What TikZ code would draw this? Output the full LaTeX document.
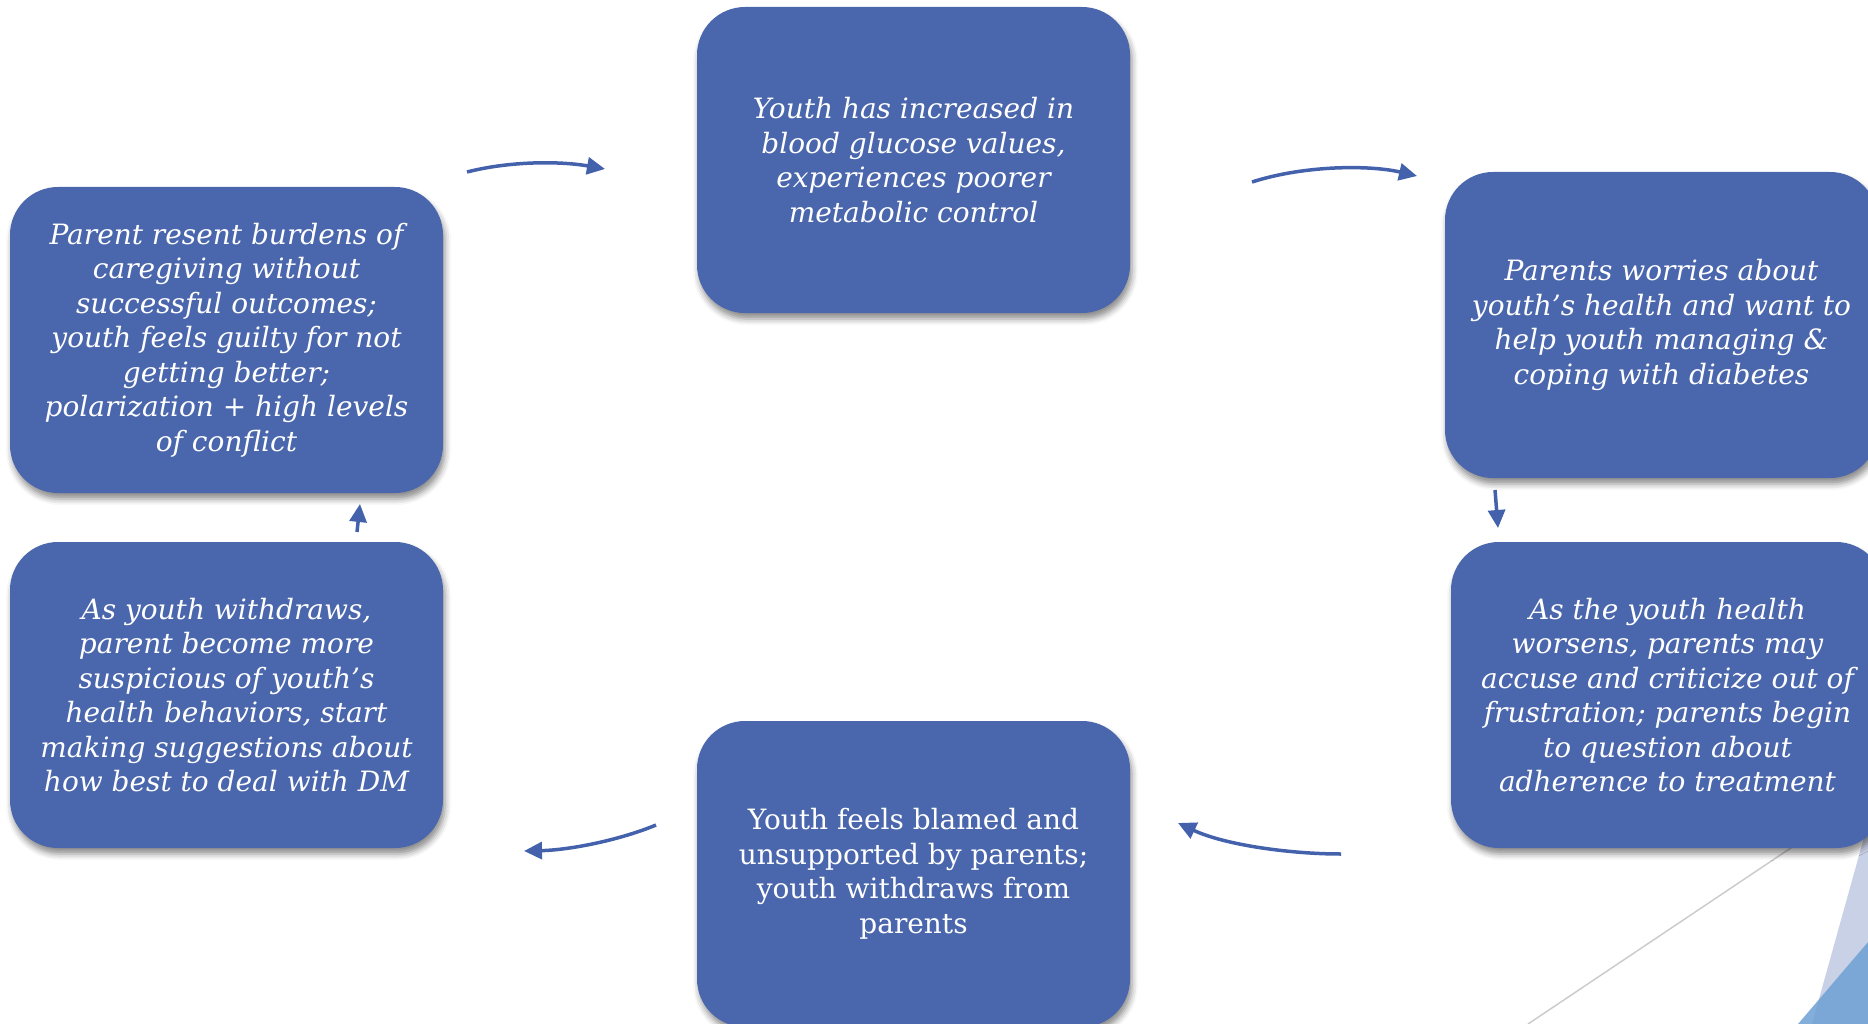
\documentclass[tikz,border=0pt]{standalone}
\usepackage{fontspec}
\setmainfont{DejaVu Serif}
\usetikzlibrary{arrows.meta,shadows.blur}
\definecolor{boxblue}{RGB}{74,102,172}
\definecolor{arrowblue}{RGB}{68,98,172}
\definecolor{lav}{RGB}{201,209,230}
\definecolor{skyb}{RGB}{110,160,212}
\definecolor{lgrey}{RGB}{204,204,204}
\tikzset{
  cyclebox/.style={rectangle, rounded corners=48pt, fill=boxblue, text=white,
    minimum width=433pt, minimum height=306pt, align=center, inner sep=0pt,
    font=\fontsize{28}{34.5}\selectfont\itshape,
    blur shadow={shadow xshift=2pt, shadow yshift=-6pt, shadow blur radius=6pt, shadow opacity=45}},
  uprightbox/.style={cyclebox, font=\fontsize{28}{34.5}\selectfont},
  flow/.style={draw=arrowblue, line width=3.5pt, -{Triangle[length=18pt,width=17pt]}},
}
\begin{document}
\begin{tikzpicture}[x=1pt,y=-1pt]
\useasboundingbox (0,0) rectangle (1868,1024);
\clip (0,0) rectangle (1868,1024);
% decoration bottom right
\draw[lgrey, line width=1.5pt] (1840,815) -- (1528,1024);
\fill[lav] (1880,780) -- (1812,1024) -- (1880,1024) -- cycle;
\fill[skyb, opacity=0.85] (1880,928) -- (1798,1024) -- (1880,1024) -- cycle;
% boxes
\node[cyclebox] (tc) at (913.5,160) {Youth has increased in\\blood glucose values,\\experiences poorer\\metabolic control};
\node[cyclebox] (rt) at (1661.5,325) {Parents worries about\\youth’s health and want to\\help youth managing \&\\coping with diabetes};
\node[cyclebox] (rb) at (1667.5,695) {As the youth health\\worsens, parents may\\accuse and criticize out of\\frustration; parents begin\\to question about\\adherence to treatment};
\node[uprightbox] (bc) at (913.5,874) {Youth feels blamed and\\unsupported by parents;\\youth withdraws from\\parents};
\node[cyclebox] (lb) at (226.5,695) {As youth withdraws,\\parent become more\\suspicious of youth’s\\health behaviors, start\\making suggestions about\\how best to deal with DM};
\node[cyclebox] (lt) at (226.5,340) {Parent resent burdens of\\caregiving without\\successful outcomes;\\youth feels guilty for not\\getting better;\\polarization + high levels\\of conflict};
% connector ends
\coordinate (a1s) at (467,172); \coordinate (a1e) at (605,169);
\coordinate (a2s) at (1252,182); \coordinate (a2e) at (1417,176);
\coordinate (a3s) at (1495,490); \coordinate (a3e) at (1498,528);
\coordinate (a4s) at (1341,854); \coordinate (a4e) at (1178,823);
\coordinate (a5s) at (656,825); \coordinate (a5e) at (524,851);
\coordinate (a6s) at (357,532); \coordinate (a6e) at (360,504);
\draw[flow] (a1s) .. controls (510,161) and (560,161) .. (a1e);
\draw[flow] (a2s) .. controls (1305,165) and (1370,165) .. (a2e);
\draw[flow] (a3s) -- (a3e);
\draw[flow] (a4s) .. controls (1290,854) and (1225,845) .. (a4e);
\draw[flow] (a5s) .. controls (620,840) and (570,850) .. (a5e);
\draw[flow] (a6s) -- (a6e);
\end{tikzpicture}
\end{document}
